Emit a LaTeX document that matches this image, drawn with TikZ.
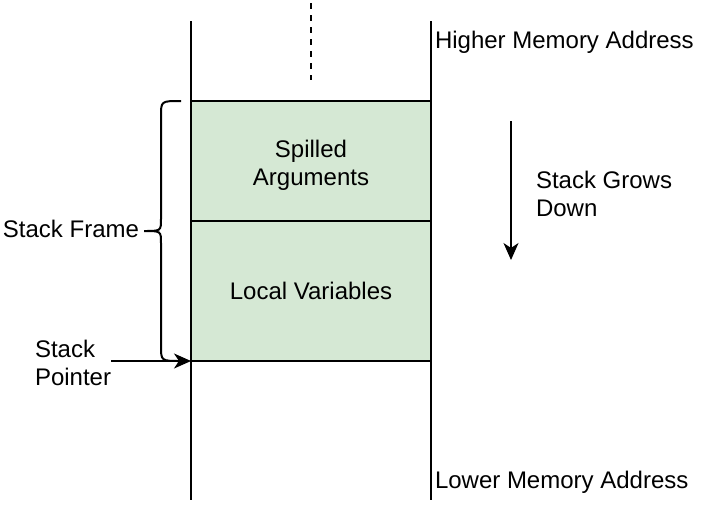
\documentclass[tikz,border=0pt]{standalone}
\usepackage{fontspec}
\setmainfont{Liberation Sans}
\usetikzlibrary{arrows.meta}
\begin{document}
\begin{tikzpicture}[x=0.5pt,y=-0.5pt,
  line width=1pt,
  every node/.style={font=\fontsize{12}{14}\selectfont},
  box/.style={draw=black, fill=boxgreen, minimum width=120pt, inner sep=0pt, outer sep=0pt, align=center},
  lbl/.style={inner sep=0pt, align=left},
  arr/.style={-{Stealth[length=8.5pt,width=7.5pt,inset=2.5pt]}},
  dashline/.style={dash pattern=on 3pt off 3pt}
]
\definecolor{boxgreen}{HTML}{D5E8D4}
\useasboundingbox (0,0) rectangle (712,504);
% memory column
\coordinate (lt) at (191,21);
\coordinate (lb) at (191,500);
\coordinate (rt) at (431,21);
\coordinate (rb) at (431,500);
\coordinate (dt) at (311,3);
\coordinate (db) at (311,80);
\draw (lt) -- (lb);
\draw (rt) -- (rb);
\draw[dashline] (dt) -- (db);
% frames
\node[box, minimum height=60pt] (spill) at (311,161) {};
\node[lbl, align=center, anchor=north] (spilltext) at (311,139) {Spilled\\Arguments};
\node[box, minimum height=70pt] (local) at (311,291) {Local Variables};
% labels
\node[lbl, anchor=base west] (high) at (434,48) {Higher Memory Address};
\node[lbl, anchor=base west] (low) at (434,488) {Lower Memory Address};
\node[lbl, anchor=north west] (grow) at (535,170) {Stack Grows\\Down};
\node[lbl, anchor=base east] (frame) at (140,237) {Stack Frame};
\node[lbl, anchor=north west] (sp) at (34,339.5) {Stack\\Pointer};
% grows arrow
\coordinate (gt) at (511,121);
\coordinate (gb) at (511,260);
\draw[arr] (gt) -- (gb);
% stack pointer arrow
\coordinate (spstart) at (111,361);
\draw[arr] (spstart) -- (local.south west);
% brace
\coordinate (btop) at (181,101);
\coordinate (bbot) at (181,361);
\coordinate (btip) at (144,231);
\draw (btop) .. controls (161,101) .. (161,116) -- (161,219)
  .. controls (161,231) .. (btip)
  .. controls (161,231) .. (161,243) -- (161,346)
  .. controls (161,361) .. (bbot);
\end{tikzpicture}
\end{document}
